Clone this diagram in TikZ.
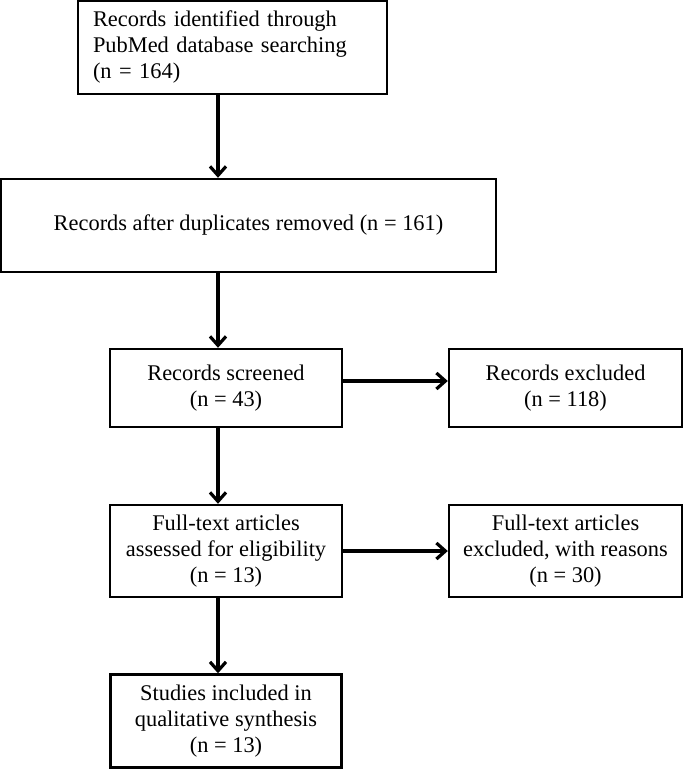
\documentclass[tikz,border=0pt]{standalone}
\usepackage{fontspec}
\setmainfont{Liberation Serif}
\usepackage{tikz}
\usetikzlibrary{positioning, arrows.meta}
\tikzset{
	box/.style={draw, line width=1.2pt, align=center, inner sep=2pt, font=\fontsize{11.2}{13}\selectfont}, % every framed step of the chart
	flow/.style={-{Straight Barb[length=4.5pt, width=8pt, line width=1.6pt]}, line width=1.6pt}, % thick arrows between the steps
}
\begin{document}
\begin{tikzpicture}[on grid]
		\useasboundingbox (0,0) rectangle (341.5pt,-384.5pt);
		% Define boxes
		\node[box, minimum width=154.5pt, minimum height=46.5pt, text width=139.5pt, align=left] (ident) at (116.25pt,-23.75pt) {Records identified through\\PubMed database searching\\(n = 164)};
		\node[box, minimum width=247.5pt, minimum height=46.5pt, below=89pt of ident, xshift=8pt] (dupl) {Records after duplicates removed (n = 161)};
		\node[box, minimum width=116pt, minimum height=39pt, below=81.25pt of dupl, xshift=-11.25pt] (screen) {Records screened\\(n = 43)};
		\node[box, minimum width=116.5pt, minimum height=39pt, right=169.75pt of screen] (excl) {Records excluded\\(n = 118)};
		\node[box, minimum width=116pt, minimum height=46pt, below=81.5pt of screen] (full) {Full-text articles\\assessed for eligibility\\(n = 13)};
		\node[box, minimum width=116.5pt, minimum height=46pt, right=169.75pt of full] (fullex) {Full-text articles\\excluded, with reasons\\(n = 30)};
		\node[box, minimum width=115.5pt, minimum height=46.5pt, below=85pt of full] (incl) {Studies included in\\qualitative synthesis\\(n = 13)};
		\coordinate (spine) at (109pt,0);
		
		% Arrows
		\draw[flow] (ident.south -| spine) -- (dupl.north -| spine);
		\draw[flow] (dupl.south -| spine) -- (screen.north -| spine);
		\draw[flow] ([yshift=3.5pt]screen.east) -- ([yshift=3.5pt]excl.west);
		\draw[flow] (screen.south -| spine) -- (full.north -| spine);
		\draw[flow] (full.east) -- (fullex.west);
		\draw[flow] (full.south -| spine) -- (incl.north -| spine);
		
	\end{tikzpicture}
\end{document}
